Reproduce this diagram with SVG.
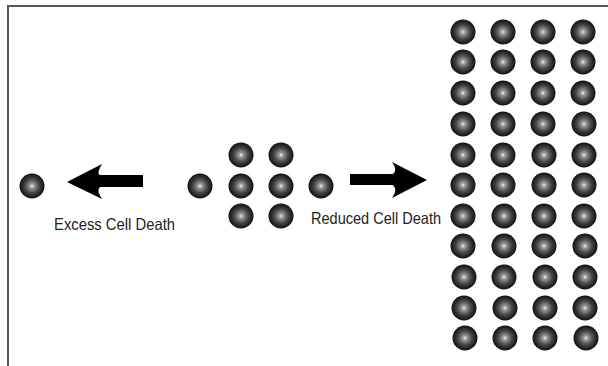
<svg xmlns="http://www.w3.org/2000/svg" width="608" height="366" viewBox="0 0 608 366">
<defs>
<radialGradient id="ball" cx="0.5" cy="0.5" r="0.5">
<stop offset="0" stop-color="#f0f0f0"/>
<stop offset="0.18" stop-color="#999"/>
<stop offset="0.55" stop-color="#4a4a4a"/>
<stop offset="0.85" stop-color="#222"/>
<stop offset="1" stop-color="#111"/>
</radialGradient>
<circle id="c" r="12.5" fill="url(#ball)"/>
</defs>
<style>
text{font-family:"Liberation Sans",Arial,sans-serif;font-size:16.5px;fill:#222}
.frame{stroke:#555;stroke-width:2;fill:none}
.arrow{fill:#000}
</style>
<rect width="608" height="366" fill="#fff"/>
<path class="frame" d="M8,366 V6 H608"/>
<g id="excess">
<use href="#c" x="32" y="186"/>
</g>
<g id="middle">
<use href="#c" x="200" y="186"/>
<use href="#c" x="241" y="155"/>
<use href="#c" x="281" y="155"/>
<use href="#c" x="241" y="186"/>
<use href="#c" x="281" y="186"/>
<use href="#c" x="241" y="216"/>
<use href="#c" x="281" y="216"/>
<use href="#c" x="321" y="186"/>
</g>
<g id="reduced">
<g id="col1">
<use href="#c" x="463" y="32"/><use href="#c" x="463" y="62"/><use href="#c" x="463" y="93"/><use href="#c" x="463" y="124"/><use href="#c" x="463" y="155"/><use href="#c" x="463" y="185"/><use href="#c" x="463" y="216"/><use href="#c" x="463" y="246"/><use href="#c" x="464" y="277"/><use href="#c" x="464" y="308"/><use href="#c" x="465" y="338"/>
</g>
<g id="col2">
<use href="#c" x="503" y="32"/><use href="#c" x="503" y="62"/><use href="#c" x="503" y="93"/><use href="#c" x="503" y="124"/><use href="#c" x="503" y="155"/><use href="#c" x="503" y="185"/><use href="#c" x="504" y="216"/><use href="#c" x="504" y="246"/><use href="#c" x="504" y="277"/><use href="#c" x="505" y="308"/><use href="#c" x="505" y="338"/>
</g>
<g id="col3">
<use href="#c" x="543" y="32"/><use href="#c" x="543" y="62"/><use href="#c" x="543" y="93"/><use href="#c" x="543" y="124"/><use href="#c" x="544" y="155"/><use href="#c" x="544" y="185"/><use href="#c" x="544" y="216"/><use href="#c" x="544" y="246"/><use href="#c" x="545" y="277"/><use href="#c" x="545" y="308"/><use href="#c" x="545" y="338"/>
</g>
<g id="col4">
<use href="#c" x="583" y="32"/><use href="#c" x="583" y="62"/><use href="#c" x="583" y="93"/><use href="#c" x="584" y="124"/><use href="#c" x="584" y="155"/><use href="#c" x="584" y="185"/><use href="#c" x="584" y="216"/><use href="#c" x="585" y="246"/><use href="#c" x="585" y="277"/><use href="#c" x="585" y="308"/><use href="#c" x="586" y="338"/>
</g>
</g>
<g id="connectors">
<path class="arrow" d="M67,182 L102,164 Q96,174 100,175 L143,175 L143,187 L100,187 Q96,190 102,199 Z"/>
<path class="arrow" d="M427,180 L392,162 Q398,170 393,174 L350,174 L350,185 L393,185 Q398,190 392,198 Z"/>
</g>
<g id="labels">
<text x="54" y="230" textLength="121" lengthAdjust="spacingAndGlyphs">Excess Cell Death</text>
<text x="311" y="224" textLength="130" lengthAdjust="spacingAndGlyphs">Reduced Cell Death</text>
</g>
</svg>
